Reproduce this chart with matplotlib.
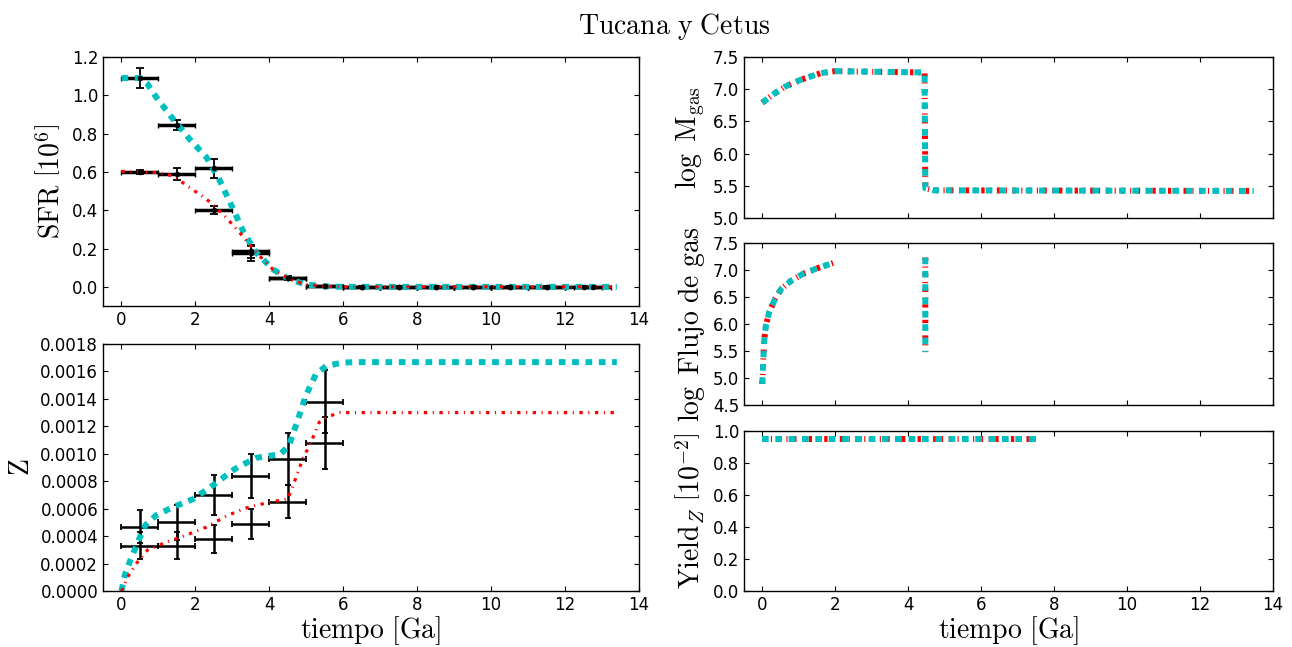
import numpy as np
import matplotlib
matplotlib.use("Agg")
import matplotlib.pyplot as plt
from matplotlib.ticker import FormatStrFormatter, MultipleLocator

plt.rcParams.update({
    "font.family": "DejaVu Sans",
    "mathtext.fontset": "cm",
    "xtick.direction": "in",
    "ytick.direction": "in",
    "xtick.top": True,
    "ytick.right": True,
    "xtick.major.size": 3.5,
    "ytick.major.size": 3.5,
    "xtick.labelsize": 12,
    "ytick.labelsize": 12,
    "lines.scale_dashes": False,
    "axes.linewidth": 1.0,
})

# ---------------- data ----------------
# SFR observations (two sets), bins of 1 Ga
sfr_x1 = [0.5, 1.5, 2.5, 3.5, 4.5, 5.5, 6.5, 7.5, 8.5, 9.5, 10.5, 11.5, 12.75]
sfr_y1 = [1.09, 0.845, 0.62, 0.185, 0.045, 0.004, 0.0, 0.0, 0.0, 0.0, 0.0, 0.0, 0.0]
sfr_e1 = [0.05, 0.025, 0.05, 0.035, 0.01, 0.003, 0.002, 0.002, 0.002, 0.002, 0.002, 0.002, 0.002]
sfr_x2 = [0.5, 1.5, 2.5, 3.5, 4.5, 5.5, 6.5, 7.5, 8.5, 9.5, 10.5, 11.5, 12.5]
sfr_y2 = [0.60, 0.59, 0.40, 0.175, 0.045, 0.003, 0.0, 0.0, 0.0, 0.0, 0.0, 0.0, 0.0]
sfr_e2 = [0.012, 0.03, 0.02, 0.04, 0.01, 0.003, 0.002, 0.002, 0.002, 0.002, 0.002, 0.002, 0.002]

# SFR models
sfr_t_c = [0, 0.5, 0.7, 0.94, 1.39, 1.84, 2.3, 2.64, 2.98, 3.31, 3.65, 4.1, 4.56, 5.0, 5.46, 6.0, 13.4]
sfr_m_c = [1.09, 1.09, 1.06, 0.99, 0.877, 0.772, 0.676, 0.562, 0.423, 0.283, 0.178, 0.091, 0.038, 0.012, 0.003, 0.0, 0.0]
sfr_t_r = [0, 0.94, 1.39, 1.84, 2.3, 2.75, 3.2, 3.65, 4.1, 4.56, 5.0, 5.46, 6.0, 13.4]
sfr_m_r = [0.603, 0.597, 0.58, 0.519, 0.458, 0.379, 0.283, 0.178, 0.091, 0.038, 0.012, 0.003, 0.0, 0.0]

# Z observations
z_x = [0.5, 1.5, 2.5, 3.5, 4.5, 5.5]
z_y1 = [0.00047, 0.00050, 0.00070, 0.00084, 0.00096, 0.00138]
z_e1 = [0.00012, 0.00013, 0.000145, 0.00016, 0.00019, 0.00023]
z_y2 = [0.00033, 0.00033, 0.00038, 0.00049, 0.00065, 0.00108]
z_e2 = [0.0001, 0.0001, 0.0001, 0.00011, 0.00012, 0.00019]

# Z models
z_t_c = [0, 0.09, 0.24, 0.48, 0.65, 0.93, 1.38, 1.94, 2.5, 3.07, 3.63, 4.3, 4.53, 4.75, 4.98, 5.26, 5.54, 5.99, 6.4, 13.4]
z_m_c = [0, 0.000116, 0.000224, 0.00038, 0.00048, 0.00055, 0.00061, 0.00067, 0.000775, 0.00089, 0.00097,
         0.000997, 0.00106, 0.00123, 0.00142, 0.00158, 0.00164, 0.001665, 0.001668, 0.001668]
z_t_r = [0, 0.2, 0.43, 0.71, 1.16, 1.73, 2.3, 2.86, 3.43, 4.0, 4.5, 4.67, 4.9, 5.12, 5.35, 5.58, 5.9, 13.4]
z_m_r = [0, 0.000116, 0.00021, 0.0003, 0.00035, 0.000405, 0.000466, 0.00055, 0.00061, 0.000647, 0.00067,
         0.00079, 0.00096, 0.00108, 0.00123, 0.00127, 0.0013, 0.0013]

# log gas mass
mg_t = [0, 0.3, 0.63, 1.07, 1.61, 2.0, 4.45, 4.47, 4.7, 13.47]
mg_v = [6.79, 6.92, 7.04, 7.15, 7.25, 7.28, 7.26, 5.46, 5.43, 5.42]

# log gas flow
fl_t = [0, 0.02, 0.05, 0.1, 0.19, 0.35, 0.52, 0.79, 1.12, 1.5, 1.94, np.nan, 4.47, 4.47]
fl_v = [4.89, 5.17, 5.67, 5.97, 6.22, 6.46, 6.65, 6.8, 6.93, 7.03, 7.13, np.nan, 7.23, 5.48]

# yield
yd_t = [0, 7.5]
yd_v = [0.952, 0.952]

# ---------------- figure ----------------
fig = plt.figure(figsize=(12.92, 6.47), dpi=100)
W, H = 1292.0, 647.0

def add_ax(x0, y0, x1, y1):
    return fig.add_axes([x0 / W, 1 - y1 / H, (x1 - x0) / W, (y1 - y0) / H])

ax1 = add_ax(103, 57, 639, 306)
ax2 = add_ax(103, 344, 639, 591)
ax3 = add_ax(744, 57, 1273, 218)
ax4 = add_ax(744, 243, 1273, 405)
ax5 = add_ax(744, 431, 1273, 591)

cyan_kw = dict(color="c", lw=4.3, dashes=(4.8, 4.8), dash_capstyle="butt")
red_kw_thin = dict(color="r", lw=2.3, dashes=(2.4, 4.0, 0.8, 4.0), dash_capstyle="butt")
red_kw_thick = dict(color="r", lw=4.3, dashes=(2.4, 4.0, 0.8, 4.0), dash_capstyle="butt")

lab = 20

# SFR panel
for xs, ys, es in [(sfr_x1, sfr_y1, sfr_e1), (sfr_x2, sfr_y2, sfr_e2)]:
    ax1.errorbar(xs, ys, xerr=0.5, fmt="none", ecolor="k", elinewidth=2.5, capsize=1.8, capthick=1.0)
    ax1.errorbar(xs, ys, yerr=es, fmt="o", color="k", ms=3, elinewidth=1.3, capsize=3, capthick=1.3)
ax1.plot(sfr_t_c, sfr_m_c, **cyan_kw)
ax1.plot(sfr_t_r, sfr_m_r, **red_kw_thin)
ax1.set_xlim(-0.5, 14)
ax1.set_ylim(-0.1, 1.2)
ax1.yaxis.set_major_locator(MultipleLocator(0.2))
ax1.yaxis.set_major_formatter(FormatStrFormatter("%.1f"))
ax1.set_ylabel(r"$\mathrm{SFR}\ \left[10^6\right]$", fontsize=lab)

# Z panel
for ys, es in [(z_y1, z_e1), (z_y2, z_e2)]:
    ax2.errorbar(z_x, ys, xerr=0.5, yerr=es, fmt="none", ecolor="k", elinewidth=1.8, capsize=2.2, capthick=1.3)
ax2.plot(z_t_c, z_m_c, **cyan_kw)
ax2.plot(z_t_r, z_m_r, **red_kw_thin)
ax2.set_xlim(-0.5, 14)
ax2.set_ylim(0, 0.0018)
ax2.yaxis.set_major_locator(MultipleLocator(0.0002))
ax2.yaxis.set_major_formatter(FormatStrFormatter("%.4f"))
ax2.set_ylabel(r"$\mathrm{Z}$", fontsize=lab)
ax2.set_xlabel(r"$\mathrm{tiempo}\ [\mathrm{Ga}]$", fontsize=lab, labelpad=0)

# log M gas
ax3.plot(mg_t, mg_v, **red_kw_thick)
ax3.plot(mg_t, mg_v, **cyan_kw)
ax3.set_xlim(-0.5, 14)
ax3.set_ylim(5.0, 7.5)
ax3.yaxis.set_major_locator(MultipleLocator(0.5))
ax3.yaxis.set_major_formatter(FormatStrFormatter("%.1f"))
ax3.set_xticklabels([])
ax3.set_ylabel(r"$\log\ \mathrm{M}_{\mathrm{gas}}$", fontsize=lab)

# log flujo
ax4.plot(fl_t, fl_v, **red_kw_thick)
ax4.plot(fl_t, fl_v, **cyan_kw)
ax4.set_xlim(-0.5, 14)
ax4.set_ylim(4.5, 7.5)
ax4.yaxis.set_major_locator(MultipleLocator(0.5))
ax4.yaxis.set_major_formatter(FormatStrFormatter("%.1f"))
ax4.set_xticklabels([])
ax4.set_ylabel(r"$\log\ \mathrm{Flujo\ de\ gas}$", fontsize=lab)

# yield
ax5.plot(yd_t, yd_v, **red_kw_thick)
ax5.plot(yd_t, yd_v, **cyan_kw)
ax5.set_xlim(-0.5, 14)
ax5.set_ylim(0, 1.0)
ax5.yaxis.set_major_locator(MultipleLocator(0.2))
ax5.yaxis.set_major_formatter(FormatStrFormatter("%.1f"))
ax5.set_ylabel(r"$\mathrm{Yield}_{Z}\ \left[10^{-2}\right]$", fontsize=lab)
ax5.set_xlabel(r"$\mathrm{tiempo}\ [\mathrm{Ga}]$", fontsize=lab, labelpad=0)

for ax in (ax1, ax2, ax3, ax4, ax5):
    ax.xaxis.set_major_locator(MultipleLocator(2))
for ax in (ax1, ax2, ax5):
    ax.xaxis.set_major_formatter(FormatStrFormatter("%d"))

fig.text(0.522, 1 - 27 / H, r"$\mathrm{Tucana\ y\ Cetus}$", fontsize=20, ha="center", va="center")

fig.savefig("out.png", dpi=100)
